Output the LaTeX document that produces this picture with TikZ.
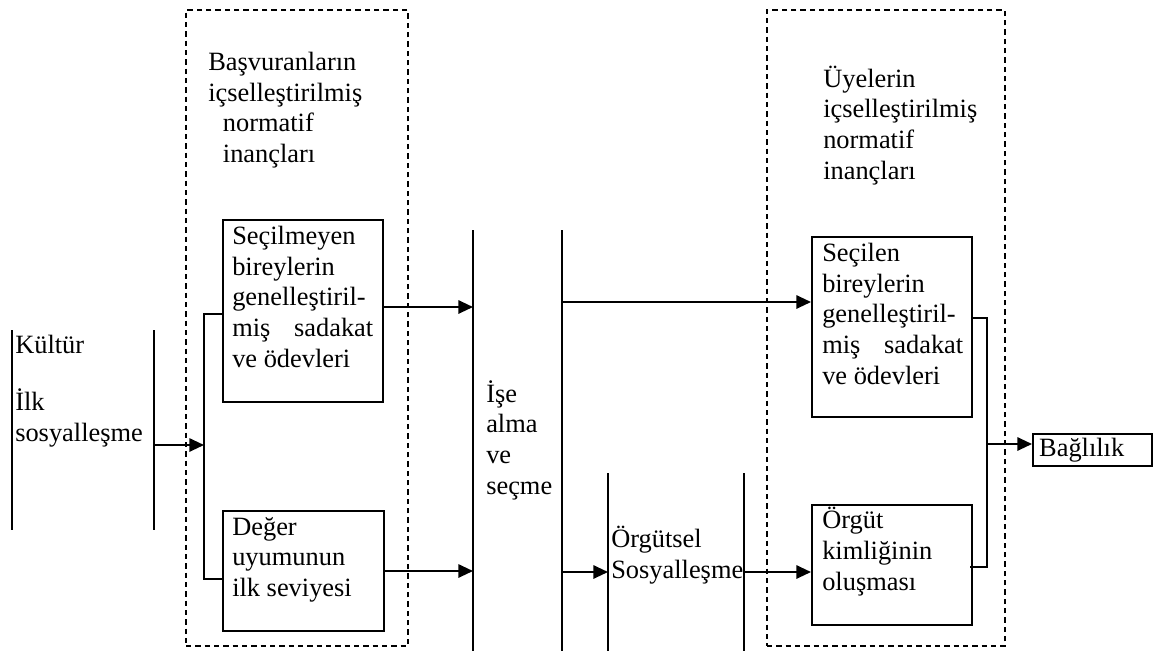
\documentclass[tikz,border=0pt]{standalone}
\usepackage{fontspec}
\setmainfont{Liberation Serif}
\usetikzlibrary{arrows.meta,fit}
\begin{document}
\begin{tikzpicture}[x=0.75pt,y=-0.75pt,
  txt/.style={anchor=base west, inner sep=0pt, align=left, font={\fontsize{19.8}{22.9}\selectfont}},
  box/.style={draw, line width=1.5pt, inner sep=0pt},
  dbox/.style={draw, line width=1pt, dash pattern=on 4pt off 3pt, inner sep=0pt},
  vline/.style={line width=1.5pt},
  arr/.style={line width=1.5pt, -{Triangle[length=11pt,width=10pt]}},
  brline/.style={line width=1pt}]
\useasboundingbox (0,0) rectangle (1157,651);

% dashed groups
\node[dbox, fit={(186,10) (408,646)}] (gl) {};
\node[dbox, fit={(767,10) (1005,646)}] (gr) {};
% (base anchor = baseline of last line)
\node[txt] (tl) at (208,162.5) {Başvuranların\\içselleştirilmiş\\\hspace*{11pt}normatif\\\hspace*{11pt}inançları};
\node[txt] (tr) at (823,179) {Üyelerin\\içselleştirilmiş\\normatif\\inançları};

% Kultur
\draw[vline] (12,330) -- (12,530);
\draw[vline] (154,330) -- (154,530);
\node[txt] (kul) at (15,353) {Kültür};
\node[txt] (ilk) at (15,441) {İlk\\sosyalleşme};
\coordinate (kr) at (154,445);
\coordinate (bl) at (204,445);

% left boxes
\node[box, fit={(223,220) (383,402)}] (b1) {};
\node[txt] (b1t) at (232,367) {Seçilmeyen\\bireylerin\\genelleştiril-\\\makebox[105.75pt][s]{miş\hfill sadakat}\\ve ödevleri};
\node[box, fit={(223,511) (384,631)}] (b2) {};
\node[txt] (b2t) at (232,596.5) {Değer\\uyumunun\\ilk seviyesi};

% left bracket
\draw[brline] (b1.west |- 0,314) -| (bl) |- (b2.west |- 0,579);
\draw[brline] (bl) -- (204,579);
\draw[arr] (kr) -- (bl);

% Ise alma
\draw[vline] (473,230) -- (473,651);
\draw[vline] (562,230) -- (562,651);
\node[txt] (ise) at (486,494) {İşe\\alma\\ve\\seçme};
\coordinate (i1) at (473,307);
\coordinate (i2) at (473,571);
\coordinate (o1) at (562,302);
\coordinate (o2) at (562,572);
\draw[arr] (b1.east |- i1) -- (i1);
\draw[arr] (b2.east |- i2) -- (i2);

% Orgutsel
\draw[vline] (608,473) -- (608,651);
\draw[vline] (744,473) -- (744,651);
\node[txt] (org) at (611,578) {Örgütsel\\Sosyalleşme};
\coordinate (s1) at (608,572);
\coordinate (s2) at (744,572);
\draw[arr] (o2) -- (s1);

% right boxes
\node[box, fit={(812,237) (972,417)}] (rb1) {};
\node[txt] (rb1t) at (822,384) {Seçilen\\bireylerin\\genelleştiril-\\\makebox[105.75pt][s]{miş\hfill sadakat}\\ve ödevleri};
\node[box, fit={(812,505) (972,625)}] (rb2) {};
\node[txt] (rb2t) at (822,590) {Örgüt\\kimliğinin\\oluşması};
\draw[arr] (o1) -- (rb1.west |- o1);
\draw[arr] (s2) -- (rb2.west |- s2);

% right bracket
\coordinate (br) at (987,444);
\draw[brline] (971,318) -| (br) |- (970,567);
\node[draw, line width=1.5pt, minimum width=89.25pt, minimum height=24pt, inner xsep=4.5pt, text width=80pt, align=left, font={\fontsize{19.8}{22.9}\selectfont}] (bag) at (1092.5,450) {Bağlılık};
\draw[arr] (br) -- (bag.west |- br);
\end{tikzpicture}
\end{document}
